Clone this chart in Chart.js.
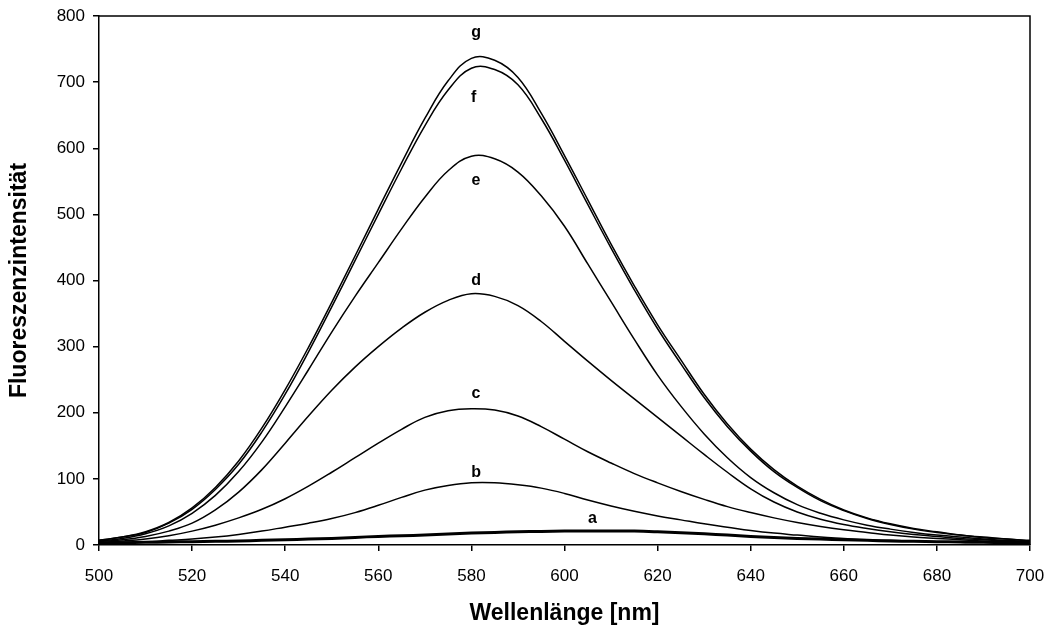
<!DOCTYPE html>
<html lang="de">
<head>
    <meta charset="UTF-8">
    <title>Fluoreszenzspektren</title>
    <script src="https://cdn.jsdelivr.net/npm/chart.js@4.4.1/dist/chart.umd.min.js"></script>
    <style>
        body {
            margin: 0;
            background: #ffffff;
        }
        #wrap {
            width: 1047px;
            height: 630px;
        }
    </style>
</head>
<body>
    <div id="wrap">
        <canvas id="spectra" width="1047" height="630"></canvas>
    </div>

    <script>
        // Wellenlängen in nm
        const wavelengths = [500, 505, 510, 515, 520, 525, 530, 535, 540, 545, 550, 555, 560, 565, 570, 575, 580, 585, 590, 595, 600,
                             605, 610, 615, 620, 625, 630, 635, 640, 645, 650, 655, 660, 665, 670, 675, 680, 685, 690, 695, 700];

        const seriesA = [3, 3.5, 4, 4.5, 5, 5.5, 6, 7, 8, 9, 10, 11.5, 13, 14, 15, 16.5, 18, 19, 20, 20.5, 21,
                         21, 21, 21, 20, 18.5, 17, 15, 13, 11.5, 10, 9, 8, 7, 6, 5.5, 5, 4.5, 4, 3.5, 3];
        const seriesB = [3, 4, 5, 7, 9, 12, 16, 21, 27, 33, 40, 49, 60, 72, 83, 90, 94, 94, 91, 86, 78,
                         68, 59, 51, 44, 38, 32, 27, 22, 18, 15, 12, 10, 8, 7, 6, 5, 4, 4, 3, 3];
        const seriesC = [4, 6, 9, 14, 21, 30, 41, 54, 70, 89, 110, 132, 154, 175, 193, 203, 206, 204, 195, 179, 160,
                         141, 124, 108, 94, 81, 69, 58, 49, 41, 34, 28, 23, 19, 15, 12, 10, 8, 6, 5, 4];
        const seriesD = [5, 8, 13, 21, 33, 53, 80, 114, 154, 195, 234, 269, 300, 328, 352, 370, 380, 376, 362, 338, 308,
                         278, 249, 221, 193, 165, 137, 110, 85, 65, 50, 39, 31, 25, 20, 16, 13, 10, 8, 6, 5];
        const seriesE = [6, 10, 17, 29, 48, 75, 111, 156, 209, 265, 322, 376, 427, 478, 526, 566, 588, 584, 564, 528, 482,
                         425, 368, 311, 257, 210, 168, 132, 102, 79, 61, 48, 38, 30, 24, 19, 15, 12, 9, 7, 5];
        const seriesF = [7, 12, 19, 33, 54, 84, 122, 171, 228, 292, 360, 430, 500, 569, 634, 688, 721, 719, 696, 645, 582,
                         515, 449, 386, 327, 274, 223, 179, 142, 111, 87, 67, 52, 40, 31, 24, 19, 15, 11, 9, 6];
        const seriesG = [7, 12, 20, 34, 56, 87, 127, 177, 235, 299, 367, 437, 508, 578, 645, 702, 736, 733, 707, 653, 589,
                         522, 455, 392, 333, 280, 228, 183, 145, 114, 89, 69, 53, 41, 32, 25, 20, 15, 12, 9, 7];

        const curveNames = ['a', 'b', 'c', 'd', 'e', 'f', 'g'];
        // Beschriftung der Kurven (Wellenlänge, Intensität)
        const labelX = [606, 581, 581, 581, 581, 580.5, 581];
        const labelY = [33, 103, 222, 393, 544, 670, 768];

        const yTicks = [0, 100, 200, 300, 400, 500, 600, 700, 800];
        const xTicks = [500, 520, 540, 560, 580, 600, 620, 640, 660, 680, 700];

        const fontFamily = "'Liberation Sans', Arial, sans-serif";

        function toPoints(values) {
            return wavelengths.map((w, i) => ({ x: w, y: values[i] }));
        }

        const allSeries = [seriesA, seriesB, seriesC, seriesD, seriesE, seriesF, seriesG];

        const datasets = allSeries.map((values, i) => ({
            label: curveNames[i],
            data: toPoints(values),
            borderColor: '#000000',
            borderWidth: i === 0 ? 3 : 1.5,
            pointRadius: 0,
            fill: false,
            tension: 0.4
        }));

        // Rahmen oben/rechts und Kurvenbuchstaben
        const framePlugin = {
            id: 'frame',
            afterDatasetsDraw(chart) {
                const ctx = chart.ctx;
                const area = chart.chartArea;
                const xs = chart.scales.x;
                const ys = chart.scales.y;
                ctx.save();
                ctx.strokeStyle = '#000000';
                ctx.lineWidth = 1.5;
                ctx.beginPath();
                ctx.moveTo(area.left, area.top);
                ctx.lineTo(area.right, area.top);
                ctx.lineTo(area.right, area.bottom);
                ctx.stroke();

                ctx.fillStyle = '#000000';
                ctx.font = 'bold 16px ' + fontFamily;
                ctx.textAlign = 'center';
                ctx.textBaseline = 'alphabetic';
                curveNames.forEach((name, i) => {
                    ctx.fillText(name, xs.getPixelForValue(labelX[i]), ys.getPixelForValue(labelY[i]));
                });
                ctx.restore();
            }
        };

        const ctx = document.getElementById('spectra').getContext('2d');
        new Chart(ctx, {
            type: 'line',
            data: { datasets: datasets },
            options: {
                responsive: false,
                animation: false,
                layout: {
                    padding: { top: 16, right: 17, left: 0, bottom: 0 }
                },
                plugins: {
                    legend: { display: false },
                    tooltip: { enabled: false }
                },
                scales: {
                    x: {
                        type: 'linear',
                        min: 500,
                        max: 700,
                        afterFit: s => {
                            s.height = 85;
                            s.paddingLeft = 0;
                            s.paddingRight = 0;
                        },
                        afterBuildTicks: s => { s.ticks = xTicks.map(v => ({ value: v })); },
                        border: { display: true, color: '#000000', width: 1.5 },
                        grid: { drawOnChartArea: false, drawTicks: true, tickLength: 6, color: '#000000', lineWidth: 1.5 },
                        ticks: {
                            color: '#000000',
                            padding: 15,
                            maxRotation: 0,
                            font: { family: fontFamily, size: 17 }
                        },
                        title: {
                            display: true,
                            text: 'Wellenlänge [nm]',
                            color: '#000000',
                            padding: { top: 0, bottom: 3 },
                            font: { family: fontFamily, size: 23, weight: 'bold' }
                        }
                    },
                    y: {
                        min: 0,
                        max: 800,
                        afterFit: s => {
                            s.width = 99;
                            s.paddingTop = 0;
                            s.paddingBottom = 0;
                        },
                        afterBuildTicks: s => { s.ticks = yTicks.map(v => ({ value: v })); },
                        border: { display: true, color: '#000000', width: 1.5 },
                        grid: { drawOnChartArea: false, drawTicks: true, tickLength: 6, color: '#000000', lineWidth: 1.5 },
                        ticks: {
                            color: '#000000',
                            padding: 8,
                            font: { family: fontFamily, size: 17 }
                        },
                        title: {
                            display: true,
                            text: 'Fluoreszenzintensität',
                            color: '#000000',
                            padding: { top: 6, bottom: 0 },
                            font: { family: fontFamily, size: 23, weight: 'bold' }
                        }
                    }
                }
            },
            plugins: [framePlugin]
        });
    </script>
</body>
</html>
